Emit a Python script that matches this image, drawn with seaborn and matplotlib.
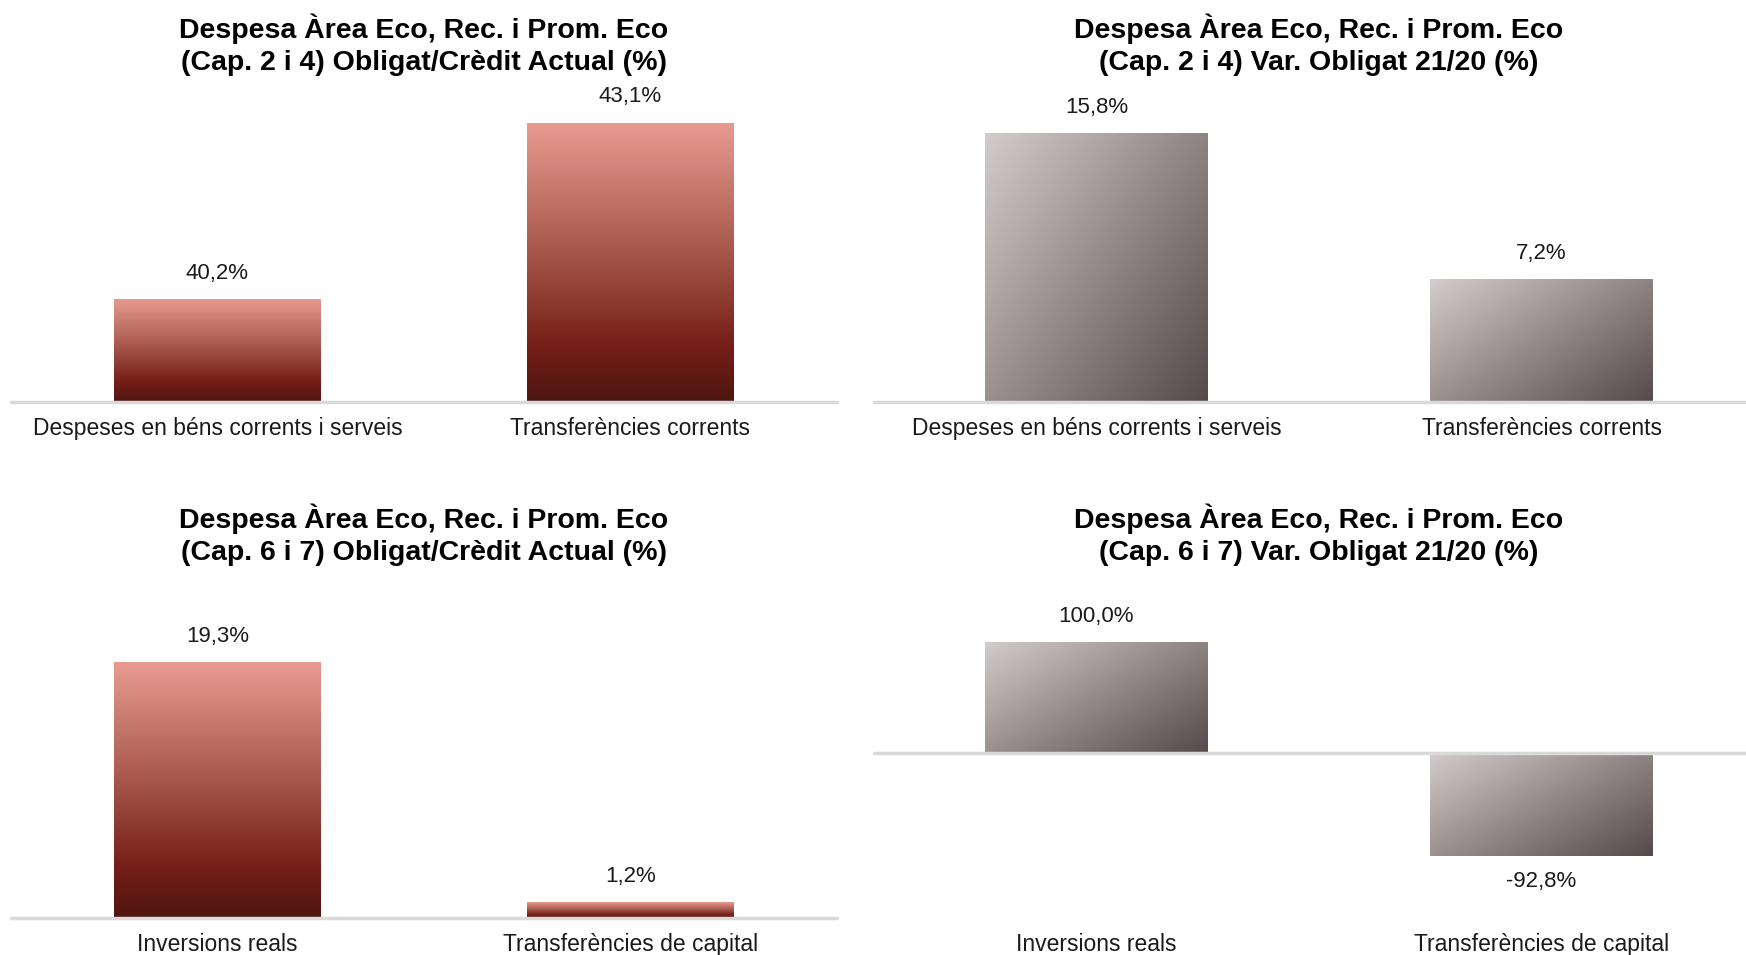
import numpy as np
import pandas as pd
import matplotlib
matplotlib.use("Agg")
import matplotlib.pyplot as plt
from matplotlib.colors import LinearSegmentedColormap
import seaborn as sns

# data
cats_cap24 = ["Despeses en béns corrents i serveis", "Transferències corrents"]
cats_cap67 = ["Inversions reals", "Transferències de capital"]
oblig_cap24 = [40.2, 43.1]
var_cap24 = [15.8, 7.2]
oblig_cap67 = [19.3, 1.2]
var_cap67 = [100.0, -92.8]

titles = [
    "Despesa Àrea Eco, Rec. i Prom. Eco\n(Cap. 2 i 4) Obligat/Crèdit Actual (%)",
    "Despesa Àrea Eco, Rec. i Prom. Eco\n(Cap. 2 i 4) Var. Obligat 21/20 (%)",
    "Despesa Àrea Eco, Rec. i Prom. Eco\n(Cap. 6 i 7) Obligat/Crèdit Actual (%)",
    "Despesa Àrea Eco, Rec. i Prom. Eco\n(Cap. 6 i 7) Var. Obligat 21/20 (%)",
]

sns.set_style("white")
plt.rcParams["font.family"] = ["Liberation Sans", "DejaVu Sans"]

red_cmap = LinearSegmentedColormap.from_list(
    "reds", [(0, "#E99B91"), (0.45, "#A9594D"), (0.8, "#741F17"), (1, "#4E1610")])
grey_cmap = LinearSegmentedColormap.from_list(
    "greys", [(0, "#D3CCCC"), (0.5, "#958A8A"), (1, "#564B4C")])


def gradient_bars(ax, kind):
    for p in list(ax.patches):
        x0, y0 = p.get_x(), p.get_y()
        w, h = p.get_width(), p.get_height()
        ylo, yhi = min(y0, y0 + h), max(y0, y0 + h)
        if kind == "red":
            g = np.linspace(0, 1, 256).reshape(-1, 1)
            cmap = red_cmap
        else:
            u = np.linspace(0, 1, 128)
            g = u[None, :] * 0.55 + u[:, None] * 0.45
            cmap = grey_cmap
        # row 0 of g is drawn at the top of the bar
        im = ax.imshow(g, cmap=cmap, vmin=0, vmax=1, aspect="auto",
                       extent=(x0, x0 + w, ylo, yhi), origin="upper",
                       interpolation="bilinear", zorder=2)
        im.set_clip_path(p)
        p.set_facecolor("none")
        p.set_edgecolor("none")


def make_panel(ax, cats, vals, title, kind, ylim, base):
    df = pd.DataFrame({"cat": cats, "val": vals})
    sns.barplot(data=df, x="cat", y="val", ax=ax, width=0.5, color="#999999")
    if base:
        for p, v in zip(ax.patches, vals):
            p.set_y(base)
            p.set_height(v - base)
    gradient_bars(ax, kind)
    ax.set_xlim(-0.5, 1.5)
    ax.set_ylim(*ylim)
    ax.axhline(base, color="#D9D9D9", lw=2.5, zorder=3, clip_on=False)
    for i, v in enumerate(vals):
        lab = f"{v:.1f}%".replace(".", ",")
        if v >= 0:
            ax.annotate(lab, (i, v), xytext=(0, 11), textcoords="offset points",
                        ha="center", va="bottom", fontsize=16, color="#1a1a1a")
        else:
            ax.annotate(lab, (i, v), xytext=(0, -11), textcoords="offset points",
                        ha="center", va="top", fontsize=16, color="#1a1a1a")
    ax.set_title(title, fontsize=20.5, fontweight="bold", pad=29,
                 linespacing=1.3, color="black")
    ax.set_xlabel("")
    ax.set_ylabel("")
    ax.set_yticks([])
    ax.tick_params(axis="x", length=0, pad=11, labelsize=16.5, labelcolor="#1a1a1a")
    sns.despine(ax=ax, left=True, bottom=True)


W, H = 1746, 955
fig = plt.figure(figsize=(W / 100, H / 100), dpi=100)


def add_ax(x0, x1, y_top, y_bot):
    return fig.add_axes([x0 / W, 1 - y_bot / H, (x1 - x0) / W, (y_bot - y_top) / H])


ax1 = add_ax(11, 837, 110, 402)
ax2 = add_ax(874, 1764, 110, 402)
ax3 = add_ax(11, 837, 600, 918)
ax4 = add_ax(874, 1764, 600, 918)

make_panel(ax1, cats_cap24, oblig_cap24, titles[0], "red", (38.5, 43.31), 38.5)
make_panel(ax2, cats_cap24, var_cap24, titles[1], "grey", (0, 17.15), 0)
make_panel(ax3, cats_cap67, oblig_cap67, titles[2], "red", (0, 23.98), 0)
make_panel(ax4, cats_cap67, var_cap67, titles[3], "grey", (-148.6, 137.8), 0)

fig.savefig("out.png", dpi=100, facecolor="white")
